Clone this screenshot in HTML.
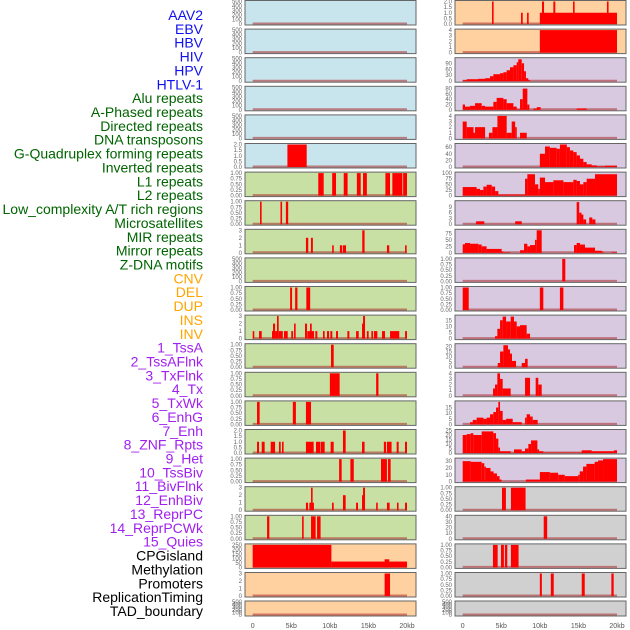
<!DOCTYPE html>
<html><head><meta charset="utf-8">
<style>
html,body{margin:0;padding:0;background:#fff;}
svg{display:block;font-family:"Liberation Sans",sans-serif;}
</style></head>
<body>
<svg id="chart" width="630" height="630" viewBox="0 0 630 630">
<g id="labels"></g>
<g id="panels"></g>
<g id="xaxis"></g>
</svg>
<script>
// ---- data ----
const trackLabels = ["AAV2","EBV","HBV","HIV","HPV","HTLV-1","Alu repeats","A-Phased repeats","Directed repeats","DNA transposons","G-Quadruplex forming repeats","Inverted repeats","L1 repeats","L2 repeats","Low_complexity A/T rich regions","Microsatellites","MIR repeats","Mirror repeats","Z-DNA motifs","CNV","DEL","DUP","INS","INV","1_TssA","2_TssAFlnk","3_TxFlnk","4_Tx","5_TxWk","6_EnhG","7_Enh","8_ZNF_Rpts","9_Het","10_TssBiv","11_BivFlnk","12_EnhBiv","13_ReprPC","14_ReprPCWk","15_Quies","CPGisland","Methylation","Promoters","ReplicationTiming","TAD_boundary"];
const labelGroups = [6,13,5,15,5];
const groupColors = ["#1010f0","#006400","#ffa500","#a020f0","#000000"];
const xTickValues = [0,5,10,15,20];
const xTickLabels = ["0","5kb","10kb","15kb","20kb"];

const T500=["0","100","200","300","400","500"], T2=["0.0","0.5","1.0","1.5","2.0"], T1=["0.00","0.25","0.50","0.75","1.00"], T3=["0","1","2","3"], T4=["0","1","2","3","4"];
const leftTicks=[T500,T500,T500,T500,T500,T2,T1,T1,T3,T500,T1,T3,T1,T1,T1,T2,T1,T3,T1,["0","50","100","150","200","250"],T3,T500];
const leftMax=[500,500,500,500,500,2,1,1,3,500,1,3,1,1,1,2,1,3,1,250,3,500];
const rightTicks=[T2,T4,["0","30","60","90"],["0","20","40","60","80"],T4,["0","20","40","60"],["0","25","50","75","100"],["0","3","6","9"],["0","25","50","75"],T1,T1,["0","5","10","15"],["0","5","10","15","20"],T4,["0","5","10","15"],["0","5","10","15","20","25"],["0","10","20","30"],T1,["0","10","20","30","40"],T1,T1,T500];
const rightMax=[2,4,113,85,4,68,100,11.7,87,1,1,18.4,21.5,4,20,25,33,1,40,1,1,500];

const leftSegs=[[],[],[],[],[],
[[4.5,7.0,2]],
[[8.5,9.2,1],[10.3,10.8,1],[11.8,12.3,1],[13.5,14.0,1],[14.3,14.8,1],[17.2,17.8,1],[18.1,19.4,1],[19.5,20,1]],
[[0.95,1.15,1],[3.6,3.8,1],[4.3,4.6,1]],
[[6.9,7.2,2],[7.55,7.8,2],[10.3,10.5,1],[11.3,11.6,1],[11.7,12.1,1],[14.2,14.5,3],[17.4,17.7,1],[19.75,19.95,1]],
[],
[[4.85,5.1,1],[5.5,5.8,1],[6.95,7.45,1]],
[[0,0.13,1],[0.82,1.17,1],[2.5,2.72,1],[2.63,2.9,2],[2.9,3.15,1],[3.15,3.37,3],[3.37,3.9,1],[4.06,4.54,1],[5.0,5.23,1],[5.36,5.57,2],[6.78,7.04,2],[7.08,7.3,1],[7.3,7.95,1],[7.43,7.65,2],[8.12,8.38,1],[9.11,9.33,1],[9.63,9.9,1],[10.06,10.32,1],[10.8,11.06,1],[12.27,12.53,1],[13.4,13.74,1],[14.17,14.38,2],[14.3,14.56,3],[14.8,15.03,1],[15.38,15.6,1],[15.72,16.16,1],[16.76,17.15,1],[17.8,19.0,1],[19.75,20,1]],
[[10.15,10.5,1]],
[[10.0,11.27,1],[16.0,16.3,1]],
[[0.56,0.9,1],[5.2,5.6,1],[6.9,7.56,1]],
[[0.56,0.82,1],[1.17,1.55,1],[2.33,2.9,1],[3.4,3.63,1],[3.8,4.0,1],[6.9,7.9,1],[8.2,8.73,1],[8.8,9.33,1],[10.1,10.5,1],[11.7,12.05,2],[14.17,14.5,1],[17.0,17.28,1],[17.4,18.0,1],[18.66,18.92,1],[19.74,20,1]],
[[11.2,11.53,1],[12.66,13.1,1],[16.63,17.4,1],[17.54,17.88,1]],
[[6.9,7.17,1],[7.34,7.56,1],[7.56,7.73,3],[7.73,7.9,1],[10.28,10.5,1],[11.7,12.05,2],[13.4,13.65,1],[14.17,14.38,2],[14.3,14.56,3],[16,16.2,1],[17.4,17.75,1],[18.7,18.9,1],[19.74,20,1]],
[[1.86,2.16,1],[6.4,6.6,1],[7.56,8.16,1],[8.34,8.8,1]],
[[0,10.2,250],[10.2,20.2,65],[17.1,17.7,90]],
[[17.1,17.8,3]],
[]];

const rightSegs=[
[[3.8,4.0,2],[7.56,7.78,1],[8.34,8.55,1],[10,20,1],[10.28,10.54,2],[11.75,12.0,2],[14.3,14.5,2],[18.7,18.9,2]],
[[10,20,4]],
[[0,0.52,5],[0.52,2.0,10],[2.0,2.9,12],[2.9,3.54,15],[3.54,3.97,25],[3.97,4.84,35],[4.84,5.27,40],[5.27,5.7,45],[5.7,6.13,55],[6.13,6.57,70],[6.57,7.0,80],[7.0,7.2,95],[7.2,7.65,110],[7.65,7.95,90],[7.95,8.2,50],[8.2,8.5,15],[8.5,8.73,5]],
[[0,0.3,20],[0.3,0.95,12],[0.95,1.6,15],[1.6,2.46,25],[2.46,2.9,15],[2.9,3.97,12],[3.97,4.4,30],[4.4,5.27,45],[5.27,5.7,40],[5.7,6.57,25],[6.57,7.0,12],[7.0,7.43,2],[7.43,7.78,40],[7.78,8.38,80],[8.38,8.64,20],[9.16,9.6,5],[9.6,10.1,10],[14.77,16.07,5]],
[[0,0.52,3],[0.52,1.4,2],[1.4,1.6,1],[1.6,2.9,2],[3.4,3.85,1],[3.85,4.5,2],[4.5,5.7,4],[5.7,6.35,1],[6.35,6.8,3],[6.8,6.9,2],[7.43,8.3,1]],
[[10.0,10.67,40],[10.67,11.3,62],[11.3,12.18,58],[12.18,12.6,55],[12.6,13.5,68],[13.5,13.9,60],[13.9,14.34,50],[14.34,14.77,45],[14.77,15.2,35],[15.2,15.64,25],[15.64,16.07,15],[16.07,16.72,8],[16.72,17.37,5],[17.37,18.44,2],[18.44,20,4]],
[[0,1.8,38],[1.8,2.25,30],[2.25,2.68,25],[2.68,3.1,40],[3.1,3.76,48],[3.76,4.2,40],[4.2,4.62,20],[4.62,8.08,5],[8.08,8.38,75],[8.38,9.37,95],[9.37,9.8,50],[9.8,10.0,30],[10.0,10.67,80],[10.67,11.75,60],[11.75,13.05,68],[13.05,14.34,60],[14.34,14.77,70],[14.77,15.2,65],[15.2,15.64,50],[15.64,16.07,60],[16.07,17.15,75],[17.15,20,95]],
[[1.73,2.8,1.5],[6.8,7.65,1.5],[14.77,15.1,11.5],[15.1,15.4,6],[15.4,15.64,5],[15.64,16.0,2.5],[16.4,16.8,3.5],[16.8,17.2,2.5]],
[[0,0.3,33],[0.3,0.95,38],[0.95,2.03,35],[2.03,2.46,32],[2.46,3.1,25],[3.1,5.05,15],[5.05,5.27,5],[5.27,6.13,2],[7.43,7.95,10],[7.95,8.38,35],[8.38,8.73,25],[8.73,9.37,30],[9.37,9.59,50],[9.59,10.24,87],[14.43,14.77,30],[14.77,15.2,38],[15.2,15.85,32],[15.85,17.15,20],[17.15,18.0,8],[18.0,18.23,5],[19.3,20,2]],
[[12.9,13.3,1]],
[[0,0.78,1],[10,10.45,1],[12.6,13.05,1]],
[[4.19,4.49,2],[4.49,4.84,8],[4.84,5.18,15],[5.18,5.62,18],[5.62,6.22,14],[6.22,6.65,18],[6.65,7.0,14],[7.0,7.43,10],[7.43,8.29,11],[8.29,8.73,4]],
[[4.54,4.84,4],[4.84,5.27,15],[5.27,5.87,21],[5.87,6.13,17],[6.13,6.39,13],[6.39,6.91,6],[7.65,8.08,4],[8.08,8.42,8]],
[[3.93,4.19,1.3],[4.19,4.49,2],[4.49,4.84,4],[4.84,5.18,3],[5.18,6.22,1.3],[8.08,8.73,3.2],[9.46,9.8,3.2],[9.8,10.24,2]],
[[0.95,1.3,2],[1.3,1.81,4],[1.81,2.68,6],[2.68,3.1,5],[3.1,3.54,6],[3.54,3.97,9],[3.97,4.32,11],[4.32,4.62,15],[4.62,4.84,20],[4.84,5.18,12],[5.18,5.62,4],[5.62,6.48,5],[6.48,7.65,2],[8.08,8.29,6],[8.29,8.73,9],[8.73,9.07,7],[9.07,9.72,4]],
[[0,0.52,20],[0.52,1.04,21],[1.04,1.38,22],[1.38,2.46,20],[2.46,3.97,24],[3.97,4.32,22],[4.32,4.62,16],[4.62,4.84,6],[4.84,6.22,2],[6.65,7.65,4],[7.65,8.08,2],[8.08,8.51,5],[8.51,8.86,10],[8.86,9.68,14],[9.68,9.9,4],[9.9,10.45,2],[10.45,15.42,0.5],[15.42,16.72,3],[16.72,19.6,2],[19.6,20,3]],
[[0,1.03,30],[1.03,2.46,29],[2.46,2.8,27],[2.8,3.0,22],[3.0,3.6,20],[3.6,4.0,15],[4.0,4.44,12],[4.44,4.78,8],[4.78,5.04,3],[8.19,10.0,3],[10.0,11.3,14],[11.3,12.37,13],[12.37,13.23,10],[13.23,14.96,8],[14.96,15.17,10],[15.17,15.6,15],[15.6,16.03,22],[16.03,17.1,26],[17.1,17.54,29],[17.54,18.19,31],[18.19,20,33]],
[[5.09,5.6,1],[6.25,8.15,1]],
[[10.5,10.95,40]],
[[3.92,4.53,1],[4.96,5.34,1],[5.47,5.78,1],[6.25,7.24,1]],
[[10,10.26,1],[11.42,11.8,1],[15.43,15.82,1],[19.27,19.57,1]],
[]];

const leftBg=["#c8e4ec","#c8e4ec","#c8e4ec","#c8e4ec","#c8e4ec","#c8e4ec","#c8e0a4","#c8e0a4","#c8e0a4","#c8e0a4","#c8e0a4","#c8e0a4","#c8e0a4","#c8e0a4","#c8e0a4","#c8e0a4","#c8e0a4","#c8e0a4","#c8e0a4","#ffd0a0","#ffd0a0","#ffd0a0"];
const rightBg=["#ffd0a0","#ffd0a0","#d8c8e0","#d8c8e0","#d8c8e0","#d8c8e0","#d8c8e0","#d8c8e0","#d8c8e0","#d8c8e0","#d8c8e0","#d8c8e0","#d8c8e0","#d8c8e0","#d8c8e0","#d8c8e0","#d8c8e0","#d0d0d0","#d0d0d0","#d0d0d0","#d0d0d0","#d0d0d0"];

// ---- drawing ----
const NS="http://www.w3.org/2000/svg";
function mk(tag,attrs,parent){const e=document.createElementNS(NS,tag);for(const k in attrs)e.setAttribute(k,attrs[k]);parent.appendChild(e);return e;}
const cols=[{x0:245,x1:416,z:252.7,segs:leftSegs,ticks:leftTicks,max:leftMax,bg:leftBg,name:"left"},
            {x0:455,x1:626,z:462.7,segs:rightSegs,ticks:rightTicks,max:rightMax,bg:rightBg,name:"right"}];
const kbPx=154.3/20;
function rowTop(i){return i===21?601:0.5+28.6*i;}
function rowBot(i){return i===21?616:25+28.6*i;}

// labels
const lg=document.getElementById("labels");
let idx=0;
labelGroups.forEach((n,g)=>{for(let k=0;k<n;k++){
  const t=mk("text",{x:203,y:15+idx*13.86+5,"text-anchor":"end","font-size":"14",fill:groupColors[g]},lg);
  t.textContent=trackLabels[idx];
  
  
  idx++;}});

const pg=document.getElementById("panels");
cols.forEach(c=>{
  const xs=kb=>c.z+kb*kbPx;
  for(let i=0;i<22;i++){
    const top=rowTop(i),bot=rowBot(i);
    const ys=v=>bot-1-(v/c.max[i])*(bot-top-2);
    const g=mk("g",{},pg);
    
    
    mk("rect",{x:c.x0,y:top,width:c.x1-c.x0,height:bot-top,fill:c.bg[i],stroke:"#666","stroke-width":"1"},g);
    mk("line",{x1:xs(0),x2:xs(20),y1:ys(0)-0.5,y2:ys(0)-0.5,stroke:"rgba(170,40,40,0.55)","stroke-width":"2"},g);
    c.segs[i].forEach(s=>{
      const x1=xs(Math.max(0,s[0])),x2=xs(Math.min(20,s[1]));
      const b=mk("rect",{x:x1,y:ys(s[2]),width:Math.max(1.6,x2-x1),height:ys(0)-ys(s[2]),fill:"#ff0000"},g);
      
      
    });
    c.ticks[i].forEach(l=>{
      const v=parseFloat(l);
      const t=mk("text",{x:c.x0-3,y:ys(v)+2,"text-anchor":"end","font-size":"6",fill:"#666"},g);
      t.textContent=l;
      
      
    });
  }
  const xg=document.getElementById("xaxis");
  xTickValues.forEach((v,j)=>{
    const t=mk("text",{x:xs(v),y:628,"text-anchor":"middle","font-size":"7",fill:"#555"},xg);
    t.textContent=xTickLabels[j];
    
    
  });
});
</script>
</body></html>
